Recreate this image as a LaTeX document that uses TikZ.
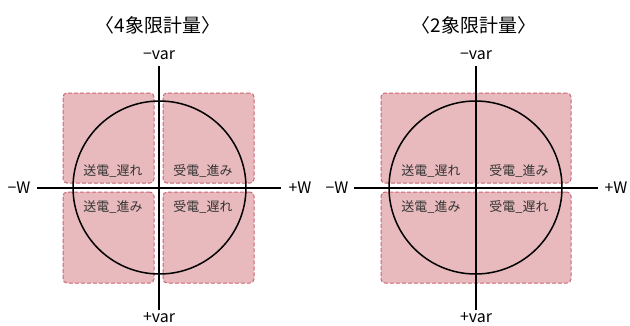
\documentclass[tikz,border=0pt]{standalone}
\usepackage{fontspec}
\setmainfont{Noto Sans CJK JP}
\begin{document}
\begin{tikzpicture}[x=1bp,y=-1bp,
  qbox/.style={draw=boxedge, fill=boxfill, dashed, dash pattern=on 4bp off 2bp, line width=1bp, rounded corners=4bp, inner sep=0pt},
  axis/.style={line width=2.8bp, black},
  ring/.style={draw, circle, line width=1.5bp, minimum size=173bp, inner sep=0pt},
  lbl/.style={font=\fontsize{13}{15}\selectfont, text=black!80, inner sep=0pt},
  axlbl/.style={font=\fontsize{16}{18}\selectfont, inner sep=0pt},
  ttl/.style={font=\fontsize{19}{21}\selectfont, inner sep=0pt}]
\definecolor{boxfill}{RGB}{232,186,189}
\definecolor{boxedge}{RGB}{205,100,112}
\useasboundingbox (0,0) rectangle (630,325);
% ---------- left: 4 quadrant ----------
\node[ttl] (t1) at (158,25) {〈4象限計量〉};
\node[qbox, minimum width=91bp, minimum height=90bp] (b1) at (108.5,138) {};
\node[qbox, minimum width=91bp, minimum height=90bp] (b2) at (208.5,138) {};
\node[qbox, minimum width=91bp, minimum height=91bp] (b3) at (108.5,237.5) {};
\node[qbox, minimum width=91bp, minimum height=91bp] (b4) at (208.5,237.5) {};
\coordinate (v1t) at (159,66);
\coordinate (v1b) at (159,310);
\coordinate (h1l) at (37,188);
\coordinate (h1r) at (281,188);
\node[ring] (c1) at (159.5,187.5) {};
\draw[axis] (v1t) -- (v1b);
\draw[axis] (h1l) -- (h1r);
\node[axlbl] (mv1) at (159,55) {−var};
\node[axlbl] (pv1) at (159,318) {+var};
\node[axlbl] (mw1) at (19,188) {−W};
\node[axlbl] (pw1) at (300,188) {+W};
\node[lbl] (l11) at (113,171) {送電\_遅れ};
\node[lbl] (l12) at (203,171) {受電\_進み};
\node[lbl] (l13) at (113,207) {送電\_進み};
\node[lbl] (l14) at (203,207) {受電\_遅れ};
% ---------- right: 2 quadrant ----------
\node[ttl] (t2) at (474,25) {〈2象限計量〉};
\node[qbox, minimum width=190bp, minimum height=90bp] (b5) at (476,138) {};
\node[qbox, minimum width=190bp, minimum height=91bp] (b6) at (476,237.5) {};
\coordinate (v2t) at (476,66);
\coordinate (v2b) at (476,310);
\coordinate (h2l) at (354,188);
\coordinate (h2r) at (598,188);
\node[ring] (c2) at (475.5,187.5) {};
\draw[axis] (v2t) -- (v2b);
\draw[axis] (h2l) -- (h2r);
\node[axlbl] (mv2) at (476,55) {−var};
\node[axlbl] (pv2) at (476,318) {+var};
\node[axlbl] (mw2) at (337,188) {−W};
\node[axlbl] (pw2) at (616,188) {+W};
\node[lbl] (l21) at (431,171) {送電\_遅れ};
\node[lbl] (l22) at (519,171) {受電\_進み};
\node[lbl] (l23) at (431,207) {送電\_進み};
\node[lbl] (l24) at (519,207) {受電\_遅れ};
\end{tikzpicture}
\end{document}
